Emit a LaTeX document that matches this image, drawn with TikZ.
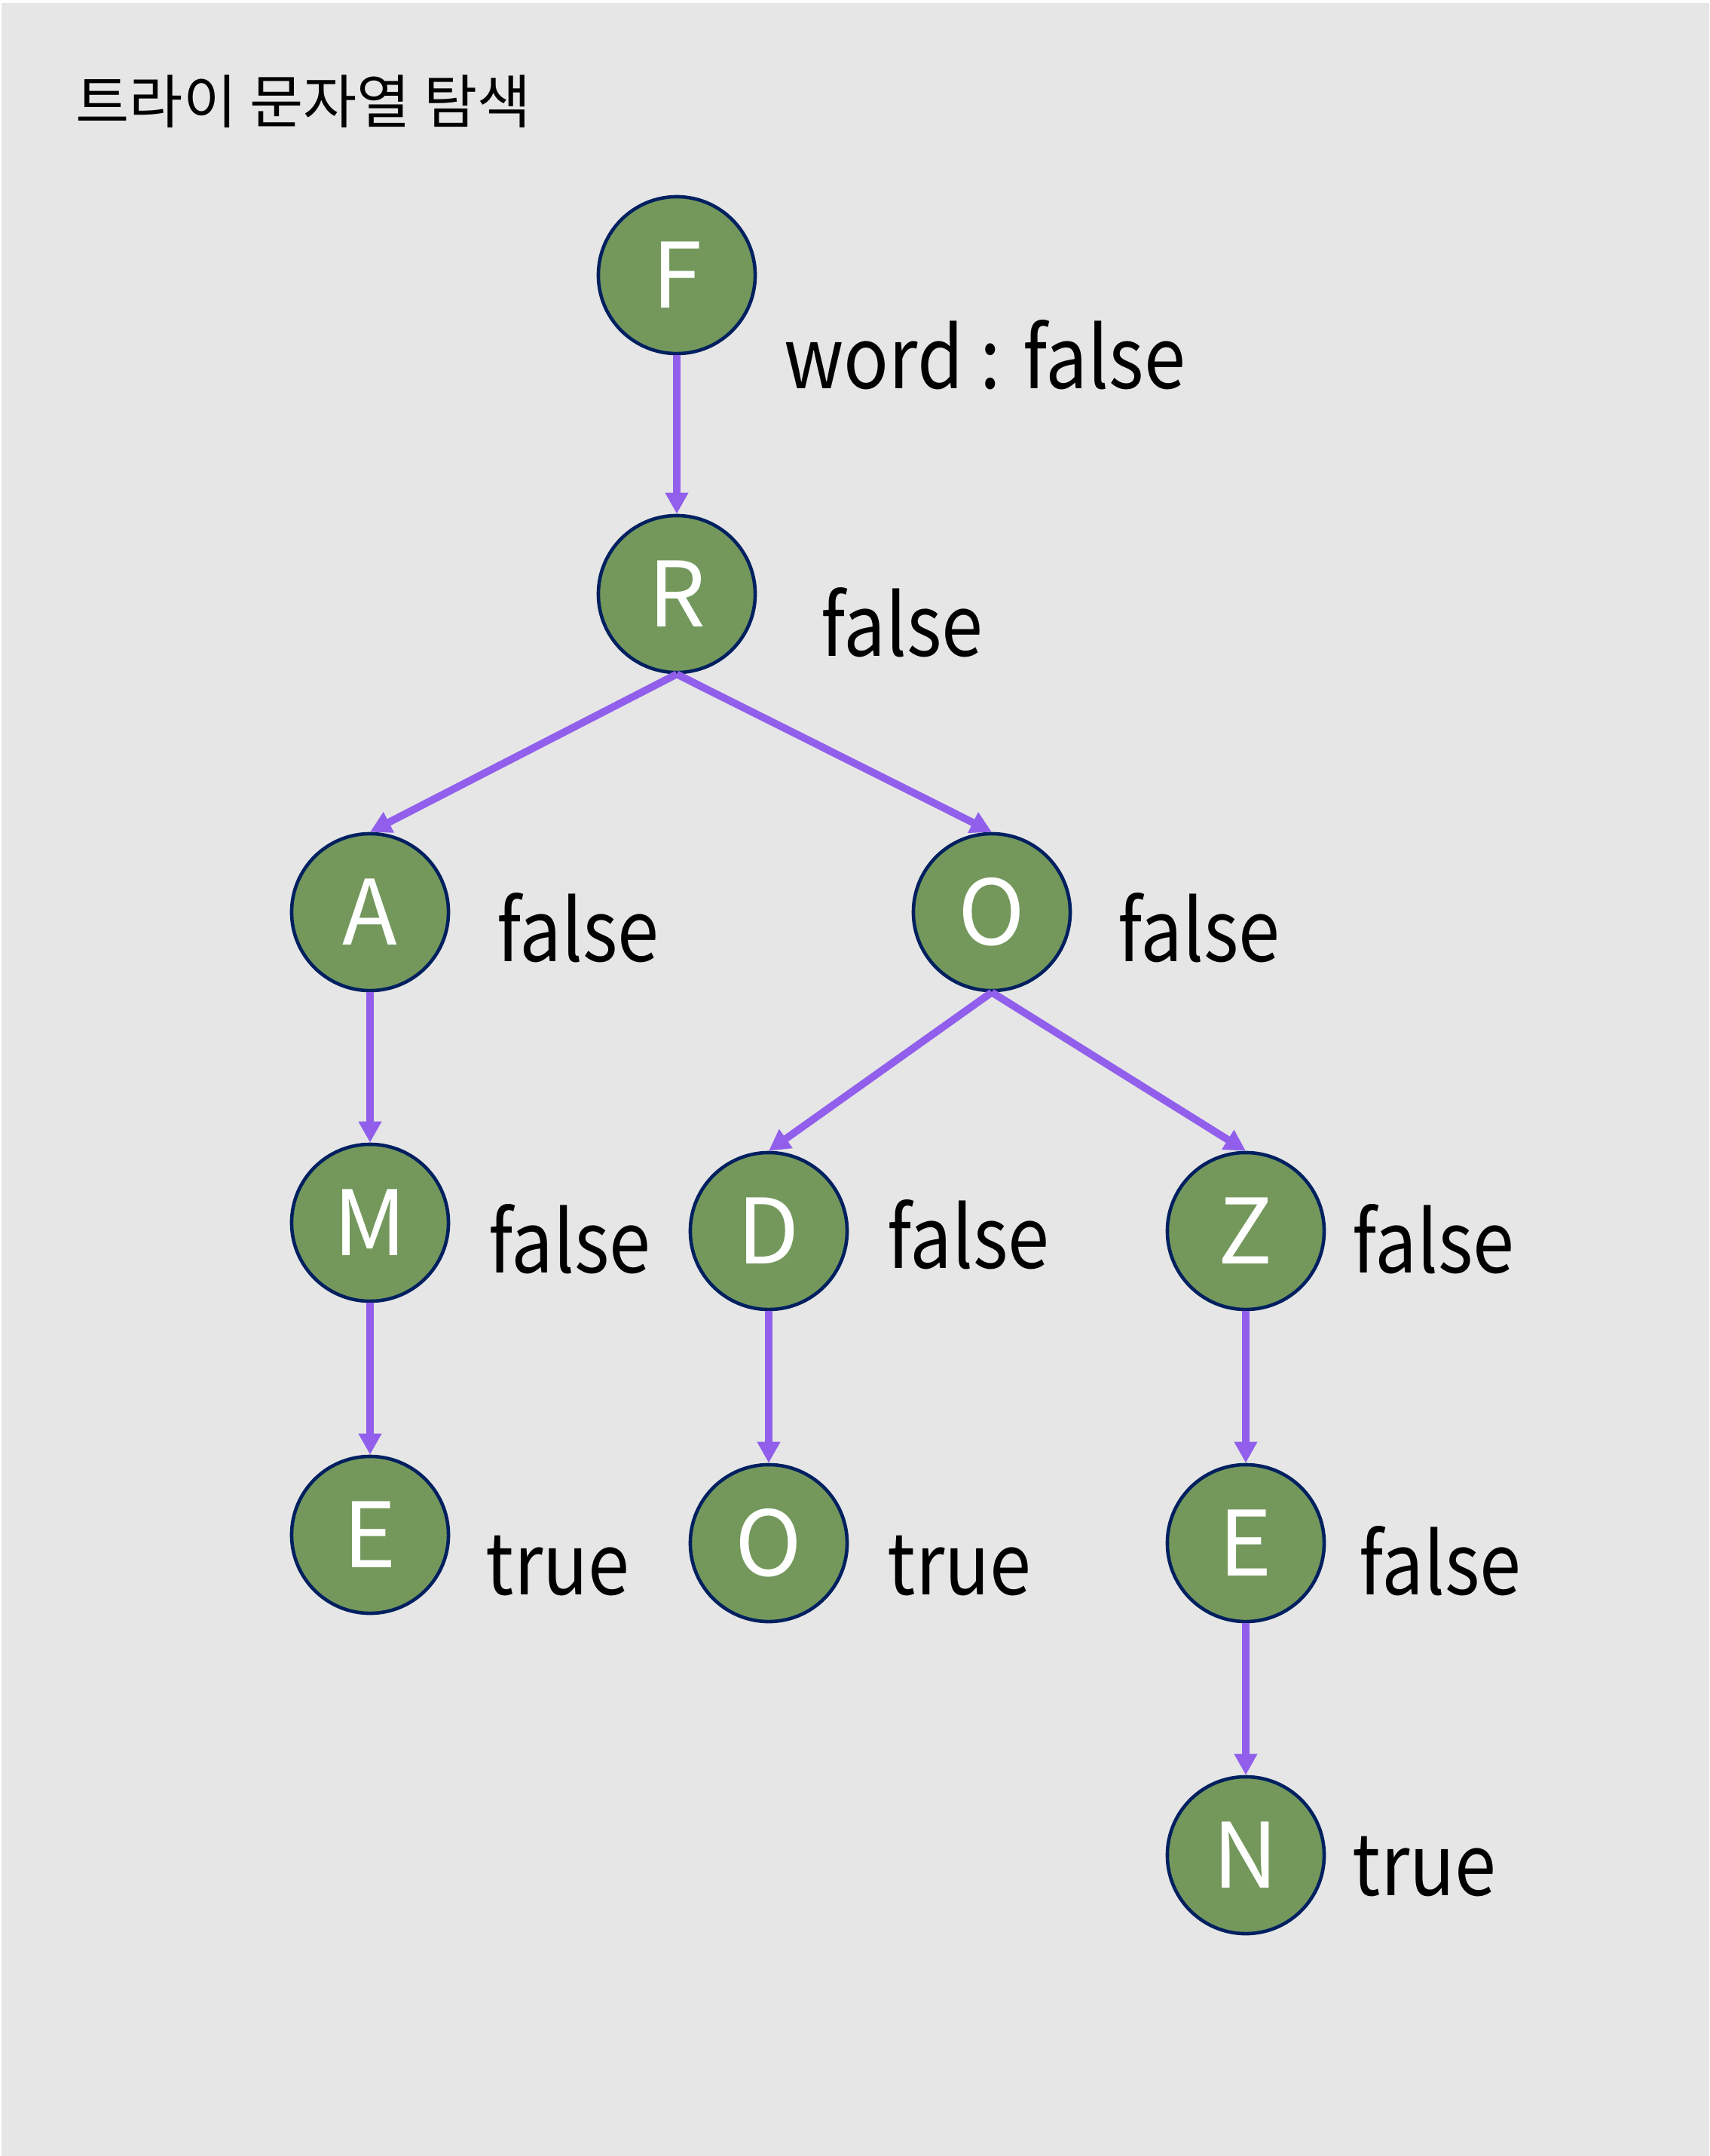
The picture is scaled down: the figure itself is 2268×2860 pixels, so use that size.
\documentclass[tikz,border=0pt]{standalone}
\usepackage{fontspec}
\setmainfont{Noto Sans CJK KR}
\newfontfamily\flagfont[FakeStretch=0.88]{Noto Sans CJK KR}
\usetikzlibrary{arrows.meta}
\definecolor{panelgray}{RGB}{230,230,230}
\definecolor{nodegreen}{RGB}{116,152,92}
\definecolor{rimblue}{RGB}{0,32,96}
\definecolor{edgepurple}{RGB}{145,95,235}

\begin{document}
\begin{tikzpicture}[x=0.01cm, y=-0.01cm,
  trie/.style={circle, draw=rimblue, line width=1.3pt, fill=nodegreen, minimum size=2.08cm, inner sep=0pt, text=white, font=\fontsize{34}{34}\selectfont},
  flag/.style={anchor=base west, inner sep=0pt, font=\flagfont\fontsize{32}{32}\selectfont},
  trieedge/.style={draw=edgepurple, line width=2.8pt, -{Triangle[length=0.28cm, width=0.29cm]}}
]
%% background
\fill[white] (0,0) rectangle (2268,2860);
\fill[panelgray] (2,4) rectangle (2268,2860);
\useasboundingbox (0,0) rectangle (2268,2860);

%% title
\node[anchor=base west, inner sep=0pt, font=\fontsize{22}{22}\selectfont] (title) at (100,163) {트라이 문자열 탐색};

%% nodes
\node[trie] (f) at (898,365) {F};
\node[trie] (r) at (898,788) {R};
\node[trie] (a) at (491,1210) {A};
\node[trie] (o) at (1316,1210) {O};
\node[trie] (m) at (491,1622) {M};
\node[trie] (d) at (1020,1633) {D};
\node[trie] (z) at (1653,1633) {Z};
\node[trie] (e1) at (491,2036) {E};
\node[trie] (o2) at (1020,2047) {O};
\node[trie] (e2) at (1653,2047) {E};
\node[trie] (n) at (1653,2461) {N};

%% word flags
\node[flag] (fw) at (1040,515) {word : false};
\node[flag] (rw) at (1089,870) {false};
\node[flag] (aw) at (659,1275) {false};
\node[flag] (ow) at (1483,1275) {false};
\node[flag] (mw) at (648,1688) {false};
\node[flag] (dw) at (1177,1682) {false};
\node[flag] (zw) at (1794,1688) {false};
\node[flag] (e1w) at (644,2115) {true};
\node[flag] (o2w) at (1177,2115) {true};
\node[flag] (e2w) at (1803,2115) {false};
\node[flag] (nw) at (1794,2514) {true};

%% edges
\draw[trieedge] (f.south) -- (r.north);
\draw[trieedge] (r.south) -- (a.north);
\draw[trieedge] (r.south) -- (o.north);
\draw[trieedge] (a.south) -- (m.north);
\draw[trieedge] (m.south) -- (e1.north);
\draw[trieedge] (o.south) -- (d.north);
\draw[trieedge] (o.south) -- (z.north);
\draw[trieedge] (d.south) -- (o2.north);
\draw[trieedge] (z.south) -- (e2.north);
\draw[trieedge] (e2.south) -- (n.north);
\end{tikzpicture}
\end{document}
